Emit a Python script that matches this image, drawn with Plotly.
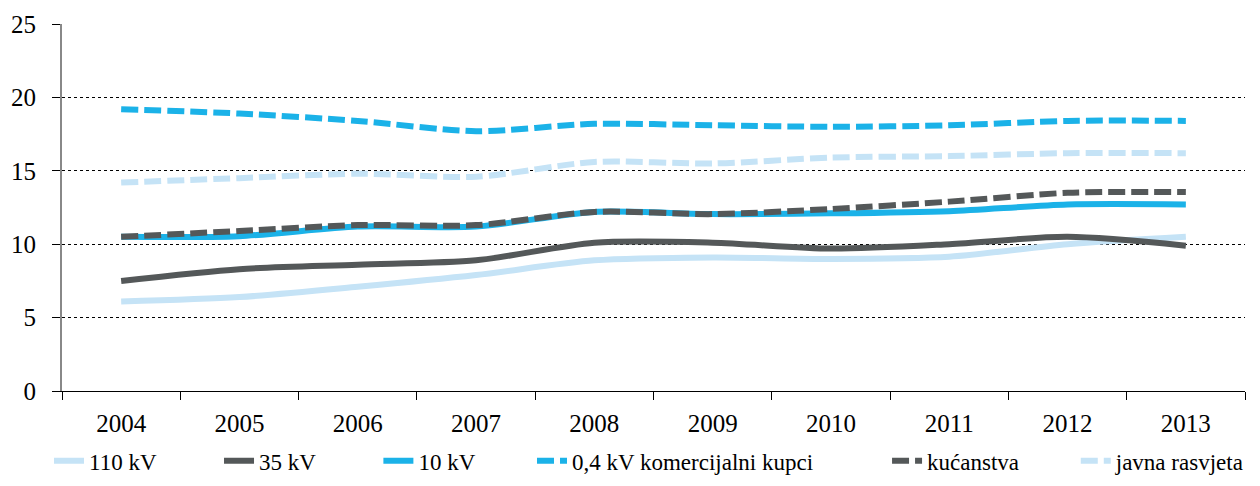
import plotly.graph_objects as go

years = ["2004", "2005", "2006", "2007", "2008", "2009", "2010", "2011", "2012", "2013"]

kv110 = [6.1, 6.4, 7.1, 7.9, 8.9, 9.1, 9.0, 9.15, 10.0, 10.5]
kv35 = [7.5, 8.3, 8.6, 8.9, 10.1, 10.1, 9.7, 10.0, 10.5, 9.9]
kv10 = [10.5, 10.55, 11.2, 11.2, 12.2, 12.05, 12.1, 12.25, 12.7, 12.7]
kv04_kom = [19.2, 18.9, 18.4, 17.7, 18.2, 18.1, 18.0, 18.1, 18.4, 18.4]
kucanstva = [10.5, 10.9, 11.3, 11.3, 12.2, 12.05, 12.4, 12.9, 13.5, 13.55]
javna = [14.2, 14.5, 14.8, 14.6, 15.6, 15.5, 15.9, 16.0, 16.2, 16.2]

LIGHT = "#C5E3F6"
DARK = "#545859"
BLUE = "#1BB2E8"
DASH = "17px,6px"

series = [
    ("110 kV", kv110, LIGHT, "solid"),
    ("35 kV", kv35, DARK, "solid"),
    ("10 kV", kv10, BLUE, "solid"),
    ("0,4 kV komercijalni kupci", kv04_kom, BLUE, DASH),
    ("kućanstva", kucanstva, DARK, DASH),
    ("javna rasvjeta", javna, LIGHT, DASH),
]

# trailing no-break spaces spread the legend entries across the width
pads = [10, 10, 9, 12, 9, 0]

fig = go.Figure()
for (name, vals, color, dash), pad in zip(series, pads):
    fig.add_trace(
        go.Scatter(
            x=years,
            y=vals,
            name=name + "\u00a0" * pad,
            mode="lines",
            line=dict(color=color, width=6, dash=dash, shape="spline", smoothing=0.8),
        )
    )

font = "Liberation Serif, Times New Roman, serif"
fig.update_layout(
    width=1260,
    height=486,
    margin=dict(l=54, r=23, t=16, b=101),
    paper_bgcolor="white",
    plot_bgcolor="white",
    font=dict(family=font, size=25, color="black"),
    showlegend=True,
    legend=dict(
        orientation="h",
        x=(41 - 54) / 1183,
        xanchor="left",
        y=-0.19,
        yanchor="middle",
        font=dict(family=font, size=23),
        tracegroupgap=0,
        bgcolor="rgba(0,0,0,0)",
    ),
)
fig.update_xaxes(
    type="category",
    range=[-0.5, 9.5],
    tickson="boundaries",
    ticks="outside",
    ticklen=8,
    tickcolor="black",
    showline=True,
    linecolor="black",
    linewidth=1,
    showgrid=False,
    ticklabelstandoff=10,
    automargin=False,
)
fig.update_yaxes(
    range=[0, 25],
    dtick=5,
    ticks="outside",
    ticklen=8,
    tickcolor="black",
    showline=True,
    linecolor="#888888",
    linewidth=2,
    showgrid=True,
    gridcolor="black",
    gridwidth=1,
    griddash="dot",
    zeroline=False,
    ticklabelstandoff=11,
    automargin=False,
)

fig.write_html("out.html")
